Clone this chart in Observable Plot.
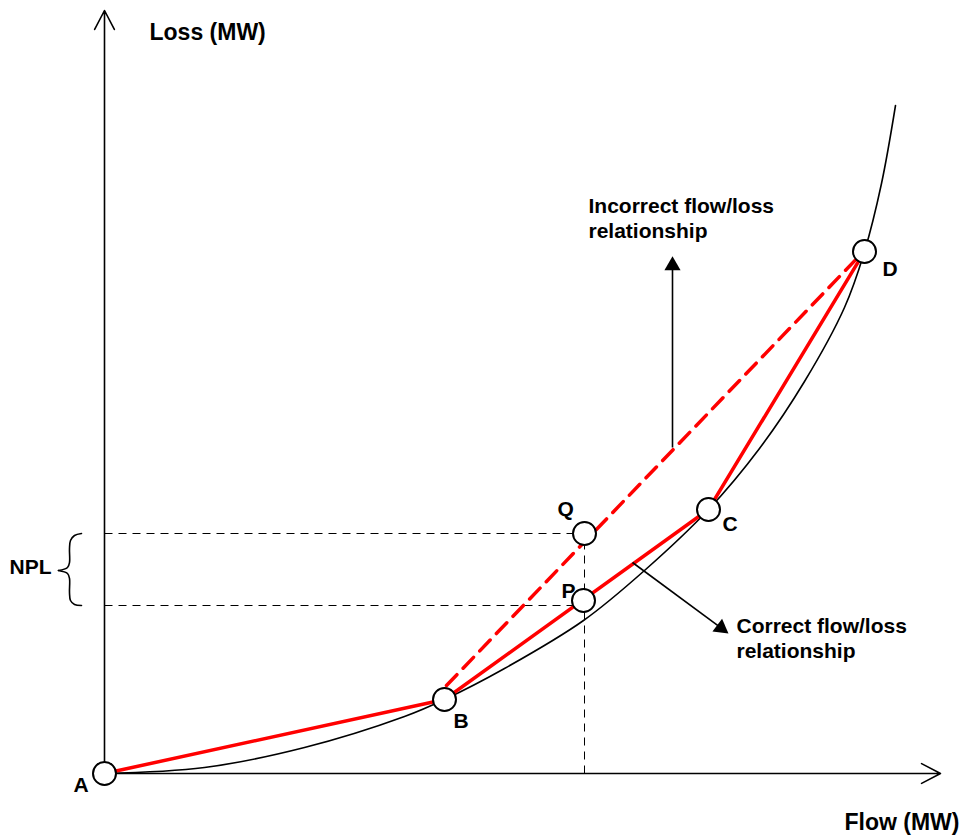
<!DOCTYPE html>
<html><head><meta charset="utf-8">
<script src="https://cdn.jsdelivr.net/npm/d3@7"></script>
<script src="https://cdn.jsdelivr.net/npm/@observablehq/plot@0.6"></script>
<style>body{margin:0;background:#fff}</style>
</head><body><div id="chart"></div>
<script>
// Flow (x) / loss (y) in arbitrary diagram units, origin at point A
const lossCurveFlow = [0, 100, 200, 300, 340, 400, 479, 540, 604, 655, 700, 740, 760, 777, 791];
const lossCurveLoss = [0, 6, 26, 57, 74, 105, 153, 203, 264, 325, 392, 466, 522, 590, 668];

const pointNames = ["A", "B", "P", "Q", "C", "D"];
const pointFlow  = [0, 340, 479, 480, 604, 760];
const pointLoss  = [0, 74, 173, 240, 264, 522];

const correctPath = ["A", "B", "C", "D"];
const incorrectFlow = [342, 760];
const incorrectLoss = [88, 523];

// dashed guide lines: horizontal at Q and P loss, vertical at Q/P flow
const guideSegments = [
  {id: "Q-level", x1: 0, y1: 240, x2: 470, y2: 240},
  {id: "P-level", x1: 0, y1: 168, x2: 469, y2: 168},
  {id: "flow", x1: 480, y1: 0, x2: 480, y2: 229}
];

const axisArrows = [
  {x1: 0, y1: 0, x2: 0, y2: 763},
  {x1: 0, y1: 0, x2: 836, y2: 0}
];

const annotationArrows = [
  {id: "incorrect", x1: 568, y1: 326, x2: 568, y2: 508, angle: 0},
  {id: "correct", x1: 528, y1: 211, x2: 616.5, y2: 145.6, angle: 126.5}
];

const braceFlow = [-23, -30, -34, -35, -35, -37, -46, -37, -35, -35, -34, -30, -23];
const braceLoss = [240, 238, 233, 225, 211, 206, 203, 200, 195, 181, 173, 169, 168];
const braceHalf = ["t","t","t","t","t","t","t","b","b","b","b","b","b"];

const axisLabels = [
  {text: "Loss (MW)", x: 45, y: 734},
  {text: "Flow (MW)", x: 740, y: -56}
];
const noteLabels = [
  {text: "Incorrect flow/loss\nrelationship", x: 484, y: 536},
  {text: "Correct flow/loss\nrelationship", x: 632, y: 116},
  {text: "NPL", x: -95, y: 200}
];
const pointLabelNames = ["A", "B", "C", "D", "Q", "P"];
const pointLabelFlow = [-31, 349, 618, 778, 453, 457];
const pointLabelLoss = [-18, 46, 243, 498, 258, 176];

// ---- build tables
const curve = lossCurveFlow.map((x, i) => ({x, y: lossCurveLoss[i]}));
const pts = pointNames.map((n, i) => ({name: n, x: pointFlow[i], y: pointLoss[i]}));
const byName = Object.fromEntries(pts.map(p => [p.name, p]));
const correct = correctPath.map(n => byName[n]);
const incorrect = incorrectFlow.map((x, i) => ({x, y: incorrectLoss[i]}));
const brace = braceFlow.map((x, i) => ({x, y: braceLoss[i], z: braceHalf[i]}));
// add the shared middle point to the bottom half so both halves meet
brace.splice(7, 0, {x: braceFlow[6], y: braceLoss[6], z: "b"});
const pointLabels = pointLabelNames.map((t, i) => ({text: t, x: pointLabelFlow[i], y: pointLabelLoss[i]}));

const font = "'Liberation Sans', Arial, Helvetica, sans-serif";

const chart = Plot.plot({
  width: 966,
  height: 835,
  margin: 0,
  x: {domain: [-104, 862], range: [0, 966], axis: null},
  y: {domain: [-62, 773], range: [835, 0], axis: null},
  style: {fontFamily: font, background: "white"},
  marks: [
    Plot.link(guideSegments, {x1: "x1", y1: "y1", x2: "x2", y2: "y2", stroke: "black", strokeWidth: 1, strokeDasharray: "8,6"}),
    Plot.line(curve, {x: "x", y: "y", curve: "catmull-rom", stroke: "black", strokeWidth: 1.6}),
    Plot.line(correct, {x: "x", y: "y", stroke: "#ff0000", strokeWidth: 3.5}),
    Plot.line(incorrect, {x: "x", y: "y", stroke: "#ff0000", strokeWidth: 3.5, strokeDasharray: "15,9"}),
    Plot.link(annotationArrows, {x1: "x1", y1: "y1", x2: "x2", y2: "y2", stroke: "black", strokeWidth: 1.6}),
    Plot.dot(annotationArrows, {x: "x2", y: "y2", symbol: "triangle", r: 6, fill: "black", stroke: "none", rotate: "angle"}),
    Plot.arrow(axisArrows, {x1: "x1", y1: "y1", x2: "x2", y2: "y2", stroke: "black", strokeWidth: 1.6, headLength: 20, headAngle: 55}),
    Plot.line(brace, {x: "x", y: "y", z: "z", curve: "catmull-rom", stroke: "black", strokeWidth: 1.6}),
    Plot.dot(pts, {x: "x", y: "y", r: 11.5, fill: "white", stroke: "black", strokeWidth: 2}),
    Plot.text(axisLabels, {x: "x", y: "y", text: "text", textAnchor: "start", lineAnchor: "bottom", fontSize: 23, fontWeight: "bold", fill: "black"}),
    Plot.text(noteLabels, {x: "x", y: "y", text: "text", textAnchor: "start", lineAnchor: "bottom", fontSize: 21, fontWeight: "bold", lineHeight: 1.15, fill: "black"}),
    Plot.text(pointLabels, {x: "x", y: "y", text: "text", textAnchor: "start", lineAnchor: "bottom", fontSize: 21, fontWeight: "bold", fill: "black"})
  ]
});
document.getElementById("chart").appendChild(chart);
</script>
</body></html>
